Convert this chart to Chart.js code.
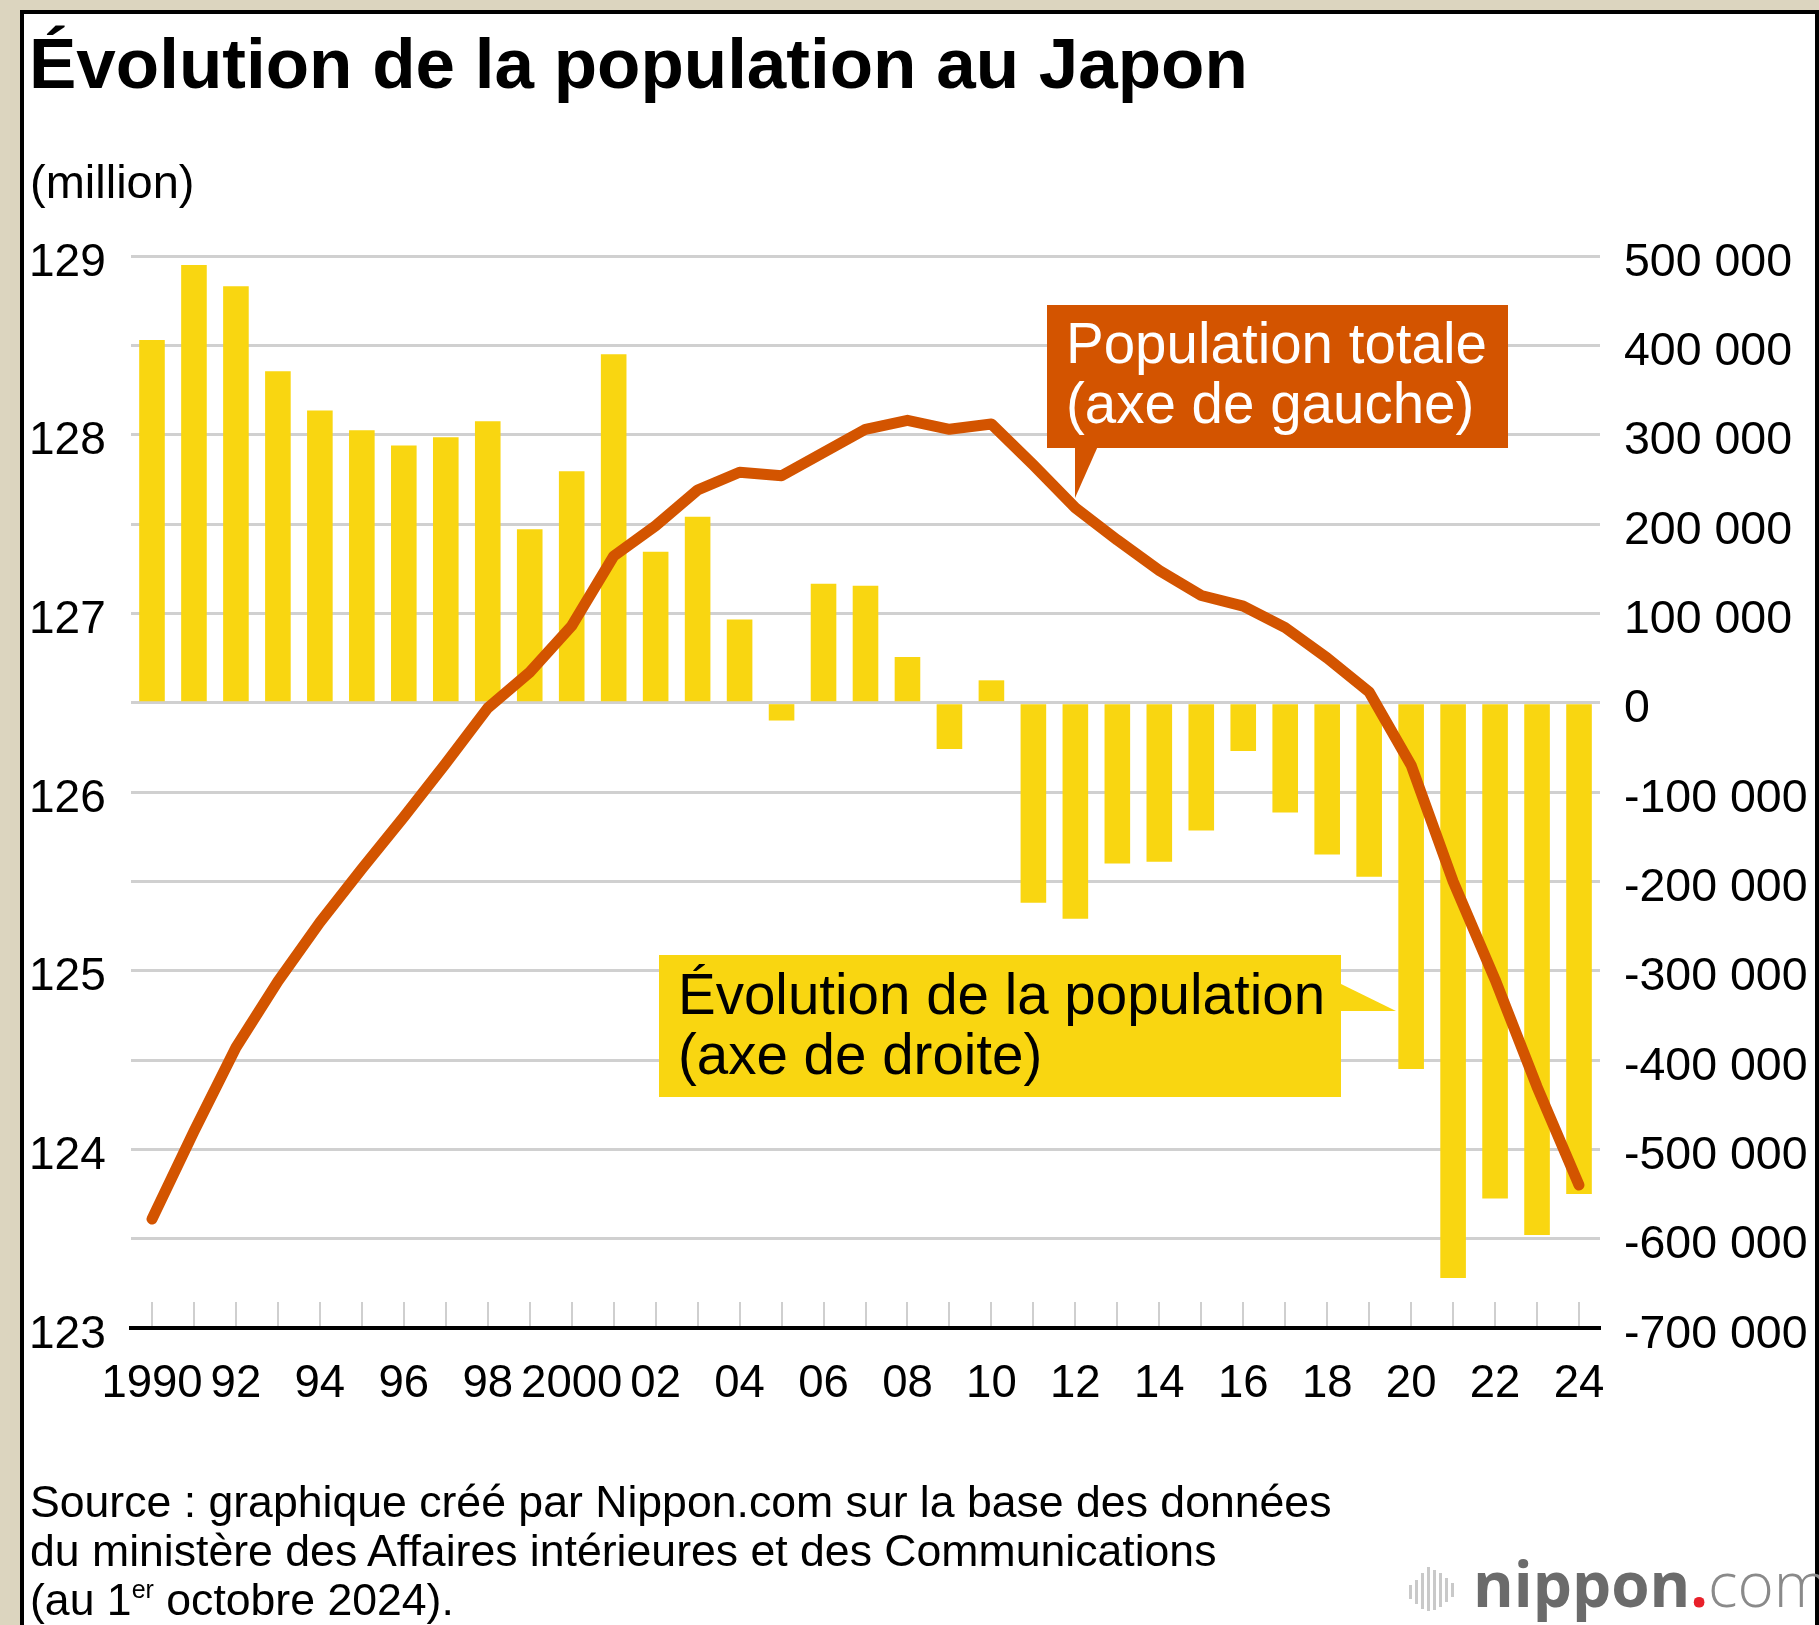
<!DOCTYPE html>
<html lang="fr">
<head>
<meta charset="utf-8">
<title>Évolution de la population au Japon</title>
<script src="https://cdn.jsdelivr.net/npm/chart.js@4.4.1/dist/chart.umd.min.js"></script>
<style>
  html, body { margin: 0; padding: 0; }
  body {
    width: 1819px; height: 1625px; overflow: hidden; position: relative;
    background: #dcd5bf;
    font-family: "Liberation Sans", Arial, Helvetica, sans-serif;
  }
  #panel {
    position: absolute; left: 20px; top: 10px; width: 1799px; height: 1650px;
    box-sizing: border-box; background: #fff;
    border: 4px solid #000; border-bottom: none;
  }
  #chart { position: absolute; left: 0; top: 0; z-index: 2; }
  .txt { position: absolute; white-space: nowrap; color: #000; z-index: 3; }
  #title { left: 29px; top: 28px; font-size: 71px; line-height: 71px; font-weight: bold; }
  #unit { left: 30px; top: 158px; font-size: 47px; line-height: 47px; }
  #source { left: 30px; top: 1477px; font-size: 44.6px; line-height: 49px; }
  #source sup { font-size: 25px; vertical-align: 0; position: relative; top: -17px; }
  .callout { position: absolute; z-index: 4; box-sizing: border-box; white-space: nowrap;
    font-size: 56.5px; line-height: 60px; padding-left: 19px; }
  #c-total { left: 1047px; top: 305px; width: 461px; height: 143px; background: #d35400; color: #fff; padding-top: 9px; }
  #c-change { left: 659px; top: 955px; width: 682px; height: 142px; background: #f9d611; color: #000; padding-top: 10px; }
  #pointers { position: absolute; left: 0; top: 0; z-index: 4; }
  #logo { position: absolute; left: 1409px; top: 1552px; z-index: 3; white-space: nowrap;
    font-family: "Open Sans", "Noto Sans", sans-serif; font-size: 62px; line-height: 62px; }
  #logo .wave { display: inline-block; width: 48px; height: 46px; position: relative; top: 4px; margin-right: 16px; }
  #logo .wave i { position: absolute; bottom: 0; width: 3px; background: #c9c9c9; }
  #logo .n { font-weight: bold; color: #6b6b6b; }
  #logo .dot { font-weight: bold; color: #e8202a; }
  #logo .com { font-weight: 300; color: #8a8a8a; }
</style>
</head>
<body>
<div id="panel"></div>
<canvas id="chart" width="1819" height="1625"></canvas>

<div class="txt" id="title">Évolution de la population au Japon</div>
<div class="txt" id="unit">(million)</div>
<div class="txt" id="source">Source : graphique créé par Nippon.com sur la base des données<br>du ministère des Affaires intérieures et des Communications<br>(au 1<sup>er</sup> octobre 2024).</div>

<div class="callout" id="c-total">Population totale<br>(axe de gauche)</div>
<div class="callout" id="c-change">Évolution de la population<br>(axe de droite)</div>
<svg id="pointers" width="1819" height="1625">
  <polygon points="1075,446 1098,446 1075,498" fill="#d35400"/>
  <polygon points="1339,983 1396,1011 1339,1011" fill="#f9d611"/>
</svg>

<div id="logo"><span class="wave"><i style="left:0;height:14px;bottom:12px"></i><i style="left:6px;height:24px;bottom:7px"></i><i style="left:12px;height:36px;bottom:2px"></i><i style="left:18px;height:44px;bottom:0"></i><i style="left:24px;height:40px;bottom:1px"></i><i style="left:30px;height:34px;bottom:4px"></i><i style="left:36px;height:24px;bottom:9px"></i><i style="left:42px;height:14px;bottom:14px"></i></span><span class="n">nippon</span><span class="dot">.</span><span class="com">com</span></div>

<script>
// years on the x axis
const years = ['1990','1991','1992','1993','1994','1995','1996','1997','1998','1999',
  '2000','2001','2002','2003','2004','2005','2006','2007','2008','2009',
  '2010','2011','2012','2013','2014','2015','2016','2017','2018','2019',
  '2020','2021','2022','2023','2024'];

// shown under every other year
const xTickLabels = ['1990','','92','','94','','96','','98','',
  '2000','','02','','04','','06','','08','',
  '10','','12','','14','','16','','18','',
  '20','','22','','24'];

// total population, millions (left axis)
const totalPopulation = [123.61, 124.10, 124.57, 124.94, 125.27, 125.57, 125.86, 126.16, 126.47, 126.67,
  126.93, 127.32, 127.49, 127.69, 127.79, 127.77, 127.90, 128.03, 128.08, 128.03,
  128.06, 127.83, 127.59, 127.41, 127.24, 127.10, 127.04, 126.92, 126.75, 126.56,
  126.15, 125.50, 124.95, 124.35, 123.80];

// yearly change, persons (right axis)
const populationChange = [406000, 490000, 466000, 371000, 327000, 305000, 288000, 297000, 315000, 194000,
  259000, 390000, 169000, 208000, 93000, -20000, 133000, 131000, 51000, -52000,
  25000, -224000, -242000, -180000, -178000, -143000, -54000, -123000, -170000, -195000,
  -410000, -644000, -555000, -596000, -550000];

const leftTickLabels = ['123', '124', '125', '126', '127', '128', '129'];
const rightTickLabels = ['-700 000', '-600 000', '-500 000', '-400 000', '-300 000', '-200 000', '-100 000',
  '0', '100 000', '200 000', '300 000', '400 000', '500 000'];

const ORANGE = '#d35400';
const YELLOW = '#f9d611';
const FAMILY = '"Liberation Sans", Arial, Helvetica, sans-serif';

new Chart(document.getElementById('chart'), {
  data: {
    labels: years,
    datasets: [
      {
        type: 'line',
        label: 'Population totale',
        data: totalPopulation,
        yAxisID: 'y',
        borderColor: ORANGE,
        borderWidth: 11,
        pointRadius: 0,
        tension: 0,
        borderCapStyle: 'round',
        borderJoinStyle: 'round',
        order: 0
      },
      {
        type: 'bar',
        label: 'Évolution de la population',
        data: populationChange,
        yAxisID: 'y1',
        backgroundColor: YELLOW,
        barPercentage: 0.61,
        categoryPercentage: 1,
        order: 1
      }
    ]
  },
  options: {
    responsive: false,
    animation: false,
    devicePixelRatio: 1,
    layout: { padding: { left: 29, top: 256, right: 0, bottom: 0 } },
    plugins: { legend: { display: false }, tooltip: { enabled: false } },
    scales: {
      x: {
        type: 'category',
        offset: true,
        grid: {
          display: true, drawOnChartArea: false, drawTicks: true, offset: false,
          tickLength: -26, color: '#cfcfcf', lineWidth: 2
        },
        border: { display: true, color: '#000', width: 4 },
        ticks: {
          autoSkip: false, maxRotation: 0, minRotation: 0, padding: 55,
          color: '#000', font: { family: FAMILY, size: 45.5 },
          callback: (v, i) => xTickLabels[i]
        },
        afterFit: s => { s.height = 297; }
      },
      y: {
        type: 'linear', position: 'left', min: 123, max: 129,
        grid: { display: false },
        border: { display: false },
        ticks: {
          stepSize: 1, crossAlign: 'far', labelOffset: 7, color: '#000',
          font: { family: FAMILY, size: 46 },
          callback: (v, i) => leftTickLabels[i]
        },
        afterFit: s => { s.width = 102; }
      },
      y1: {
        type: 'linear', position: 'right', min: -700000, max: 500000,
        grid: { display: true, drawTicks: false, color: '#d0d0d0', lineWidth: 3 },
        border: { display: false },
        ticks: {
          stepSize: 100000, autoSkip: false, padding: 24, labelOffset: 7, color: '#000',
          font: { family: FAMILY, size: 46.5 },
          callback: (v, i) => rightTickLabels[i]
        },
        afterFit: s => { s.width = 219; }
      }
    }
  }
});
</script>
</body>
</html>
